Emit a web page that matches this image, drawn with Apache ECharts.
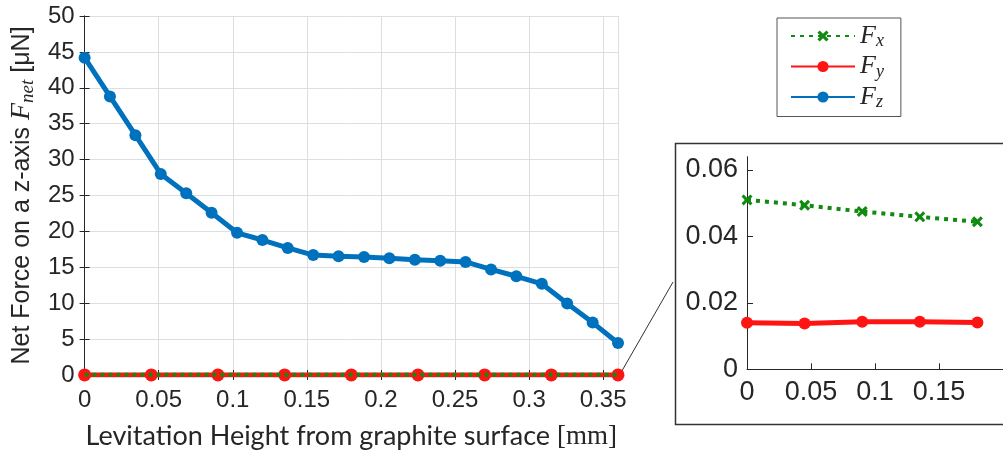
<!DOCTYPE html>
<html>
<head>
<meta charset="utf-8">
<script src="https://cdn.jsdelivr.net/npm/echarts@6/dist/echarts.min.js"></script>
<style>
  html, body { margin: 0; padding: 0; background: #fff; }
  #chart { width: 1003px; height: 455px; }
</style>
</head>
<body>
<div id="chart"></div>
<script>
// levitation height [mm] for the Fz sweep
const heightsZ = [0, 0.0171, 0.0343, 0.0514, 0.0686, 0.0857, 0.1029, 0.12, 0.1371, 0.1543, 0.1714,
  0.1886, 0.2057, 0.2229, 0.24, 0.2571, 0.2743, 0.2914, 0.3086, 0.3257, 0.3429, 0.36]
const forceZ = [44.2, 38.8, 33.4, 28.0, 25.3, 22.6, 19.8, 18.8, 17.7, 16.7, 16.55,
  16.45, 16.25, 16.05, 15.9, 15.75, 14.7, 13.75, 12.7, 9.95, 7.3, 4.45]

// Fx / Fy sweep
const heightsXY = [0, 0.045, 0.09, 0.135, 0.18, 0.225, 0.27, 0.315, 0.36]
const forceX = [0.0510, 0.0494, 0.0475, 0.0459, 0.0444, 0.0432, 0.0420, 0.0408, 0.0397]
const forceY = [0.0140, 0.0138, 0.0143, 0.0143, 0.0141, 0.0142, 0.0141, 0.0142, 0.0141]

// inset shows only the first five heights
const insetCount = 5

const green = '#118a11'
const red = '#ff1414'
const blue = '#0072bd'
const ink = '#262626'
const xMark = 'path://M2,0 L5,3 L8,0 L10,2 L7,5 L10,8 L8,10 L5,7 L2,10 L0,8 L3,5 L0,2 Z'

function pairs(xs, ys, n) {
  const out = []
  for (let i = 0; i < (n || xs.length); i++) out.push([xs[i], ys[i]])
  return out
}

const chart = echarts.init(document.getElementById('chart'))

const boxAxis = {
  axisLine: { show: true, lineStyle: { color: ink, width: 1 } },
  axisTick: { show: true, inside: true, length: 5, lineStyle: { color: ink } },
  axisLabel: { show: false },
  splitLine: { show: false }
}

const option = {
  backgroundColor: '#fff',
  animation: false,
  grid: [
    { left: 82, top: 16, width: 536, height: 360 },
    { left: 747, top: 156.7, width: 266.7, height: 212.6 }
  ],
  xAxis: [
    {
      gridIndex: 0, type: 'value', min: 0, max: 0.36, interval: 0.05,
      axisLine: { lineStyle: { color: ink } },
      axisTick: { inside: true, length: 5, lineStyle: { color: ink } },
      axisLabel: { color: ink, fontSize: 24, fontFamily: 'Liberation Sans', margin: 13, showMaxLabel: false },
      splitLine: { show: true, lineStyle: { color: '#dedede' } },
      name: '{a|Levitation Height from graphite surface }{b|[mm]}',
      nameLocation: 'middle', nameGap: 48,
      nameTextStyle: {
        rich: {
          a: { fontSize: 27, fontFamily: 'Lato', color: ink },
          b: { fontSize: 27, fontFamily: 'Liberation Serif', color: ink }
        }
      }
    },
    Object.assign({ gridIndex: 0, type: 'value', min: 0, max: 0.36, interval: 0.05, position: 'top' }, boxAxis),
    {
      gridIndex: 1, type: 'value', min: 0, max: 0.2, interval: 0.05,
      axisLine: { lineStyle: { color: ink } },
      axisTick: { inside: true, length: 6, lineStyle: { color: ink } },
      axisLabel: { color: ink, fontSize: 27, fontFamily: 'Liberation Sans', margin: 10, showMaxLabel: false },
      splitLine: { show: false }
    }
  ],
  yAxis: [
    {
      gridIndex: 0, type: 'value', min: 0, max: 50, interval: 5,
      axisLine: { show: true, lineStyle: { color: ink } },
      axisTick: { show: true, inside: true, length: 5, lineStyle: { color: ink } },
      axisLabel: { color: ink, fontSize: 24, fontFamily: 'Liberation Sans', margin: 10 },
      splitLine: { show: true, lineStyle: { color: '#dedede' } },
      name: '{a|Net Force on a z-axis }{f|F}{s|net}{a| [μN]}',
      nameLocation: 'middle', nameRotate: 90, nameGap: 47,
      nameTextStyle: {
        rich: {
          a: { fontSize: 25, fontFamily: 'Liberation Sans', color: ink, lineHeight: 30 },
          f: { fontSize: 28, fontFamily: 'Liberation Serif', fontStyle: 'italic', color: ink, lineHeight: 30 },
          s: { fontSize: 19, fontFamily: 'Liberation Serif', fontStyle: 'italic', color: ink, lineHeight: 24, verticalAlign: 'bottom' }
        }
      }
    },
    Object.assign({ gridIndex: 0, type: 'value', min: 0, max: 50, interval: 5, position: 'right' }, boxAxis),
    {
      gridIndex: 1, type: 'value', min: 0, max: 0.064, interval: 0.02,
      axisLine: { show: true, lineStyle: { color: ink } },
      axisTick: { show: true, inside: true, length: 6, lineStyle: { color: ink } },
      axisLabel: { color: ink, fontSize: 27, fontFamily: 'Liberation Sans', margin: 9, showMaxLabel: false },
      splitLine: { show: false }
    }
  ],
  legend: {
    data: ['Fx', 'Fy', 'Fz'],
    orient: 'vertical',
    left: 777, top: 18,
    itemWidth: 64, itemHeight: 14, itemGap: 3,
    padding: [5, 17, 5, 13],
    borderColor: '#555', borderWidth: 1,
    formatter: function (name) { return '{f|F}{s|' + name.charAt(1) + '}' },
    textStyle: {
      rich: {
        f: { fontSize: 26, fontFamily: 'Liberation Serif', fontStyle: 'italic', color: ink, lineHeight: 29 },
        s: { fontSize: 18, fontFamily: 'Liberation Serif', fontStyle: 'italic', color: ink, lineHeight: 22, verticalAlign: 'bottom' }
      }
    }
  },
  series: [
    {
      name: 'Fx', type: 'line', xAxisIndex: 2, yAxisIndex: 2,
      data: pairs(heightsXY, forceX, insetCount),
      symbol: xMark, symbolSize: 11,
      itemStyle: { color: green },
      lineStyle: { color: green, width: 4, type: [4, 5] },
      z: 4
    },
    {
      name: 'Fy', type: 'line', xAxisIndex: 2, yAxisIndex: 2,
      data: pairs(heightsXY, forceY, insetCount),
      symbol: 'circle', symbolSize: 12,
      itemStyle: { color: red },
      lineStyle: { color: red, width: 5 },
      z: 3
    },
    {
      name: 'Fz', type: 'line', xAxisIndex: 0, yAxisIndex: 0,
      data: pairs(heightsZ, forceZ),
      symbol: 'circle', symbolSize: 12,
      itemStyle: { color: blue },
      lineStyle: { color: blue, width: 5 },
      z: 3
    },
    {
      name: 'Fy', type: 'line', xAxisIndex: 0, yAxisIndex: 0,
      data: pairs(heightsXY, forceY),
      symbol: 'circle', symbolSize: 13,
      itemStyle: { color: red },
      lineStyle: { color: red, width: 5 },
      z: 3
    },
    {
      name: 'Fx', type: 'line', xAxisIndex: 0, yAxisIndex: 0,
      data: pairs(heightsXY, forceX),
      symbol: 'none',
      lineStyle: { color: green, width: 4, type: [4, 4] },
      z: 4
    }
  ],
  graphic: [
    // zoom box around the inset and its connector
    {
      type: 'rect', left: 673, top: 141, silent: true,
      shape: { x: 0, y: 0, width: 345, height: 281 },
      style: { fill: 'none', stroke: '#333', lineWidth: 1.5 }
    },
    {
      type: 'line', silent: true,
      shape: { x1: 619, y1: 376, x2: 673, y2: 282 },
      style: { stroke: '#333', lineWidth: 1 }
    }
  ]
}

chart.setOption(option)
</script>
</body>
</html>
